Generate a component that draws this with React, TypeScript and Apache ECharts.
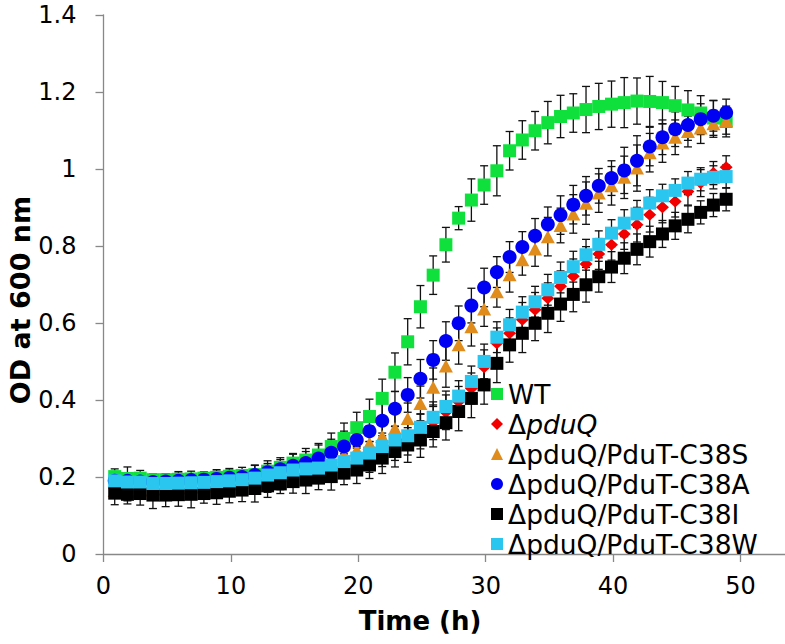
import React, { useEffect, useRef } from "react";
import * as echarts from "echarts";

const times = [0.88, 1.88, 2.88, 3.88, 4.88, 5.88, 6.88, 7.88, 8.88, 9.88, 10.88, 11.88, 12.88, 13.88, 14.88, 15.88, 16.88, 17.88, 18.88, 19.88, 20.88, 21.88, 22.88, 23.88, 24.88, 25.88, 26.88, 27.88, 28.88, 29.88, 30.88, 31.88, 32.88, 33.88, 34.88, 35.88, 36.88, 37.88, 38.88, 39.88, 40.88, 41.88, 42.88, 43.88, 44.88, 45.88, 46.88, 47.88, 48.88];

const wt = [0.201, 0.196, 0.197, 0.193, 0.193, 0.194, 0.195, 0.197, 0.199, 0.202, 0.204, 0.206, 0.215, 0.225, 0.236, 0.244, 0.257, 0.279, 0.300, 0.328, 0.357, 0.404, 0.472, 0.551, 0.642, 0.724, 0.803, 0.872, 0.919, 0.958, 0.995, 1.047, 1.075, 1.099, 1.120, 1.136, 1.145, 1.154, 1.162, 1.168, 1.172, 1.176, 1.175, 1.172, 1.164, 1.153, 1.145, 1.132, 1.123];
const wtErr = [0.02, 0.03, 0.02, 0.015, 0.015, 0.02, 0.02, 0.015, 0.02, 0.02, 0.015, 0.025, 0.02, 0.02, 0.025, 0.03, 0.03, 0.035, 0.04, 0.04, 0.045, 0.05, 0.05, 0.06, 0.055, 0.05, 0.045, 0.03, 0.055, 0.05, 0.065, 0.05, 0.05, 0.05, 0.055, 0.055, 0.05, 0.06, 0.06, 0.06, 0.065, 0.06, 0.065, 0.055, 0.05, 0.05, 0.045, 0.045, 0.04];

const pduQ = [0.171, 0.170, 0.170, 0.168, 0.168, 0.169, 0.170, 0.172, 0.174, 0.177, 0.180, 0.184, 0.190, 0.197, 0.203, 0.209, 0.215, 0.222, 0.231, 0.240, 0.252, 0.267, 0.283, 0.297, 0.318, 0.342, 0.368, 0.395, 0.430, 0.485, 0.547, 0.573, 0.608, 0.634, 0.664, 0.695, 0.721, 0.753, 0.779, 0.803, 0.831, 0.855, 0.881, 0.900, 0.915, 0.941, 0.963, 0.989, 1.004];
const pduQErr = [0.02, 0.02, 0.02, 0.025, 0.02, 0.02, 0.02, 0.02, 0.025, 0.025, 0.025, 0.025, 0.03, 0.03, 0.03, 0.03, 0.03, 0.035, 0.035, 0.035, 0.04, 0.04, 0.04, 0.04, 0.045, 0.045, 0.045, 0.04, 0.04, 0.045, 0.04, 0.04, 0.045, 0.045, 0.04, 0.04, 0.045, 0.045, 0.04, 0.04, 0.04, 0.045, 0.045, 0.04, 0.04, 0.035, 0.035, 0.03, 0.03];

const c38s = [0.165, 0.163, 0.166, 0.168, 0.170, 0.172, 0.174, 0.176, 0.179, 0.182, 0.186, 0.190, 0.196, 0.203, 0.210, 0.218, 0.228, 0.240, 0.254, 0.270, 0.287, 0.305, 0.326, 0.352, 0.391, 0.433, 0.488, 0.543, 0.590, 0.636, 0.681, 0.725, 0.764, 0.792, 0.824, 0.853, 0.883, 0.911, 0.937, 0.956, 0.978, 1.002, 1.042, 1.067, 1.082, 1.097, 1.106, 1.117, 1.125];
const c38sErr = [0.02, 0.025, 0.02, 0.02, 0.015, 0.02, 0.02, 0.02, 0.025, 0.02, 0.025, 0.03, 0.03, 0.03, 0.035, 0.035, 0.035, 0.04, 0.04, 0.04, 0.045, 0.045, 0.04, 0.04, 0.045, 0.05, 0.055, 0.05, 0.05, 0.045, 0.04, 0.045, 0.04, 0.045, 0.05, 0.045, 0.05, 0.055, 0.05, 0.05, 0.055, 0.06, 0.05, 0.05, 0.045, 0.04, 0.04, 0.035, 0.035];

const c38a = [0.190, 0.190, 0.188, 0.187, 0.188, 0.190, 0.192, 0.193, 0.195, 0.198, 0.200, 0.205, 0.212, 0.220, 0.229, 0.236, 0.248, 0.263, 0.279, 0.296, 0.319, 0.346, 0.377, 0.413, 0.455, 0.504, 0.553, 0.599, 0.645, 0.692, 0.732, 0.771, 0.797, 0.826, 0.856, 0.880, 0.907, 0.930, 0.956, 0.976, 0.996, 1.021, 1.058, 1.082, 1.103, 1.114, 1.129, 1.138, 1.146];
const c38aErr = [0.02, 0.02, 0.015, 0.015, 0.02, 0.02, 0.015, 0.02, 0.02, 0.02, 0.025, 0.025, 0.03, 0.03, 0.03, 0.03, 0.035, 0.035, 0.04, 0.04, 0.04, 0.045, 0.045, 0.045, 0.05, 0.05, 0.05, 0.045, 0.045, 0.05, 0.04, 0.04, 0.04, 0.045, 0.045, 0.05, 0.05, 0.05, 0.045, 0.045, 0.06, 0.065, 0.05, 0.045, 0.045, 0.04, 0.04, 0.04, 0.035];

const c38i = [0.158, 0.155, 0.157, 0.153, 0.153, 0.154, 0.155, 0.157, 0.159, 0.163, 0.166, 0.170, 0.177, 0.182, 0.188, 0.192, 0.197, 0.201, 0.210, 0.218, 0.231, 0.249, 0.266, 0.283, 0.296, 0.318, 0.341, 0.370, 0.404, 0.439, 0.495, 0.543, 0.573, 0.599, 0.625, 0.649, 0.674, 0.699, 0.720, 0.745, 0.768, 0.791, 0.811, 0.831, 0.852, 0.869, 0.887, 0.906, 0.921];
const c38iErr = [0.03, 0.025, 0.03, 0.035, 0.03, 0.03, 0.035, 0.025, 0.03, 0.03, 0.03, 0.035, 0.03, 0.025, 0.03, 0.035, 0.03, 0.035, 0.03, 0.035, 0.035, 0.04, 0.04, 0.045, 0.045, 0.04, 0.045, 0.05, 0.05, 0.05, 0.05, 0.045, 0.05, 0.045, 0.05, 0.045, 0.045, 0.045, 0.04, 0.04, 0.04, 0.04, 0.04, 0.035, 0.035, 0.035, 0.03, 0.03, 0.03];

const c38w = [0.190, 0.187, 0.187, 0.183, 0.183, 0.184, 0.185, 0.186, 0.188, 0.190, 0.193, 0.197, 0.205, 0.211, 0.218, 0.221, 0.223, 0.231, 0.240, 0.249, 0.262, 0.279, 0.296, 0.307, 0.329, 0.355, 0.383, 0.410, 0.448, 0.500, 0.563, 0.595, 0.628, 0.655, 0.686, 0.718, 0.746, 0.777, 0.804, 0.833, 0.859, 0.883, 0.911, 0.930, 0.944, 0.963, 0.973, 0.978, 0.980];
const c38wErr = [0.02, 0.02, 0.02, 0.02, 0.02, 0.015, 0.02, 0.02, 0.02, 0.02, 0.02, 0.02, 0.025, 0.025, 0.025, 0.025, 0.03, 0.03, 0.03, 0.03, 0.03, 0.035, 0.035, 0.035, 0.035, 0.04, 0.04, 0.04, 0.04, 0.045, 0.04, 0.04, 0.04, 0.04, 0.04, 0.04, 0.04, 0.04, 0.035, 0.035, 0.035, 0.035, 0.035, 0.03, 0.03, 0.03, 0.03, 0.03, 0.03];

const xTicks = [0, 10, 20, 30, 40, 50];

const FONT = "'DejaVu Sans', 'Liberation Sans', sans-serif";

const seriesDefs = [
  { name: "WT", values: wt, err: wtErr, color: "#10E03C", symbol: "rect", size: 13 },
  { name: "ΔpduQ", values: pduQ, err: pduQErr, color: "#F20000", symbol: "diamond", size: [13, 12] },
  { name: "ΔpduQ/PduT-C38S", values: c38s, err: c38sErr, color: "#E08C1C", symbol: "triangle", size: [14, 13] },
  { name: "ΔpduQ/PduT-C38A", values: c38a, err: c38aErr, color: "#0000F2", symbol: "circle", size: 14 },
  { name: "ΔpduQ/PduT-C38I", values: c38i, err: c38iErr, color: "#000000", symbol: "rect", size: 13 },
  { name: "ΔpduQ/PduT-C38W", values: c38w, err: c38wErr, color: "#2BC6F0", symbol: "rect", size: 13 },
];

function errorRender(params: any, api: any) {
  const x = api.value(0);
  const lo = api.coord([x, api.value(1)]);
  const hi = api.coord([x, api.value(2)]);
  const hw = 4;
  const style = { stroke: "#111", lineWidth: 1.3 };
  return {
    type: "group",
    children: [
      { type: "line", shape: { x1: lo[0], y1: lo[1], x2: hi[0], y2: hi[1] }, style },
      { type: "line", shape: { x1: lo[0] - hw, y1: lo[1], x2: lo[0] + hw, y2: lo[1] }, style },
      { type: "line", shape: { x1: hi[0] - hw, y1: hi[1], x2: hi[0] + hw, y2: hi[1] }, style },
    ],
  };
}

export default function App() {
  const ref = useRef<HTMLDivElement>(null);
  useEffect(() => {
    if (!ref.current) return;
    const chart = echarts.init(ref.current, undefined, { renderer: "svg" });
    const series: any[] = [];
    seriesDefs.forEach((s) => {
      series.push({
        type: "custom",
        renderItem: errorRender,
        data: times.map((t, i) => [t, s.values[i] - s.err[i], s.values[i] + s.err[i]]),
        encode: { x: 0, y: [1, 2] },
        silent: true,
      });
      series.push({
        type: "scatter",
        name: s.name,
        data: times.map((t, i) => [t, s.values[i]]),
        symbol: s.symbol,
        symbolSize: s.size,
        itemStyle: { color: s.color, opacity: 1 },
      });
    });
    chart.setOption({
      animation: false,
      backgroundColor: "#ffffff",
      grid: { left: 103.5, right: 0, top: 14.8, bottom: 90, containLabel: false },
      xAxis: {
        type: "value",
        min: 0,
        max: 53.5,
        interval: 10,
        axisLine: { show: true, lineStyle: { color: "#888888", width: 1.3 } },
        axisTick: { show: true, inside: false, length: 8, customValues: xTicks, lineStyle: { color: "#888888", width: 1.3 } },
        axisLabel: { customValues: xTicks, fontSize: 24, fontFamily: FONT, color: "#000", margin: 20 },
        splitLine: { show: false },
      },
      yAxis: {
        type: "value",
        min: 0,
        max: 1.4,
        interval: 0.2,
        axisLine: { show: true, lineStyle: { color: "#888888", width: 1.3 } },
        axisTick: { show: true, inside: false, length: 8, lineStyle: { color: "#888888", width: 1.3 } },
        axisLabel: { fontSize: 24, fontFamily: FONT, color: "#000", margin: 27 },
        splitLine: { show: false },
      },
      legend: {
        orient: "vertical",
        left: 491,
        top: 379,
        padding: 0,
        itemGap: 0,
        itemWidth: 12,
        itemHeight: 12,
        data: seriesDefs.map((s) => ({ name: s.name, icon: s.symbol })),
        formatter: (name: string) => (name === "ΔpduQ" ? "{n|Δ}{i|pduQ}" : name),
        textStyle: {
          fontSize: 26.5,
          fontFamily: FONT,
          color: "#000",
          lineHeight: 30,
          rich: {
            n: { fontSize: 26.5, fontFamily: FONT, color: "#000", lineHeight: 30 },
            i: { fontSize: 26.5, fontFamily: FONT, color: "#000", lineHeight: 30, fontStyle: "italic" },
          },
        },
      },
      graphic: [
        {
          type: "text",
          x: 20,
          y: 300,
          rotation: Math.PI / 2,
          style: {
            text: "OD at 600 nm",
            fontSize: 27,
            fontWeight: "bold",
            fontFamily: FONT,
            fill: "#000",
            align: "center",
            verticalAlign: "middle",
          },
        },
        {
          type: "text",
          x: 420,
          y: 621,
          style: {
            text: "Time (h)",
            fontSize: 26,
            fontWeight: "bold",
            fontFamily: FONT,
            fill: "#000",
            align: "center",
            verticalAlign: "middle",
          },
        },
      ],
      series,
    });
    return () => chart.dispose();
  }, []);
  return (
    <div
      ref={ref}
      style={{ position: "fixed", left: 0, top: 0, width: 785, height: 644, background: "#fff" }}
    />
  );
}
